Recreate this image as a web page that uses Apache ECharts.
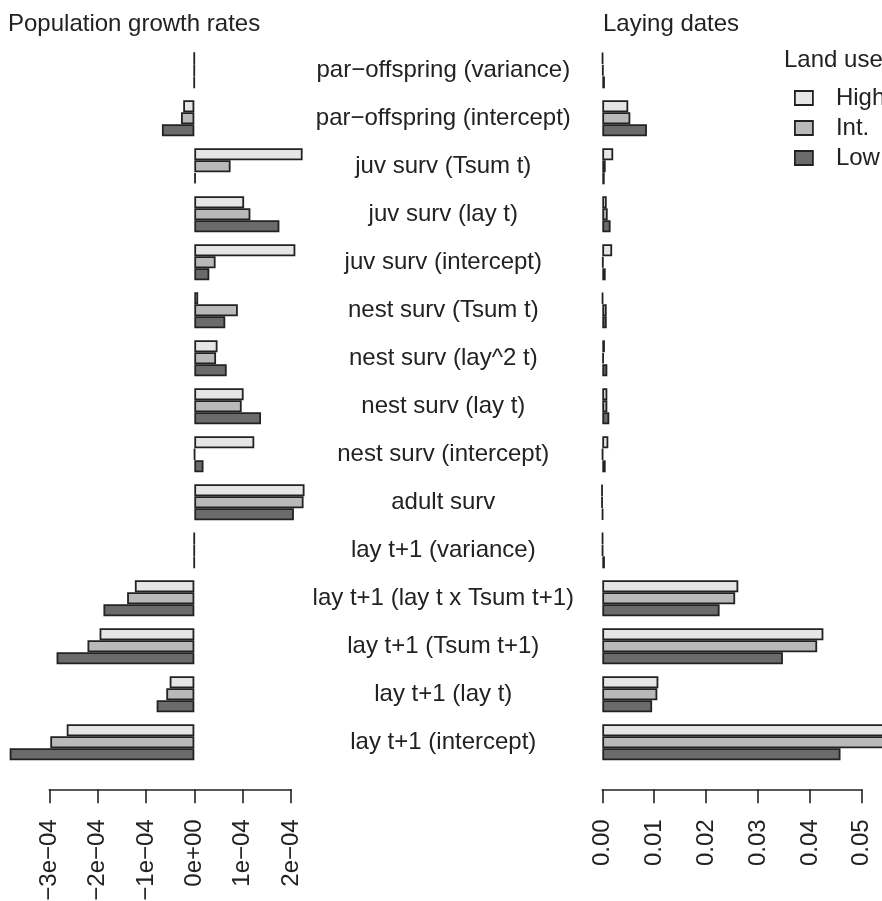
<!DOCTYPE html>
<html><head><meta charset="utf-8">
<script src="https://cdn.jsdelivr.net/npm/echarts@6/dist/echarts.min.js"></script>
<style>html,body{margin:0;padding:0;background:#fff}#c{width:882px;height:901px}</style>
</head><body><div id="c"></div>
<script>
// categories, top to bottom
const categories = [
  'par\u2212offspring (variance)',
  'par\u2212offspring (intercept)',
  'juv surv (Tsum t)',
  'juv surv (lay t)',
  'juv surv (intercept)',
  'nest surv (Tsum t)',
  'nest surv (lay^2 t)',
  'nest surv (lay t)',
  'nest surv (intercept)',
  'adult surv',
  'lay t+1 (variance)',
  'lay t+1 (lay t x Tsum t+1)',
  'lay t+1 (Tsum t+1)',
  'lay t+1 (lay t)',
  'lay t+1 (intercept)'
];
const seriesNames = ['High', 'Int.', 'Low'];

// Population growth rates
const growthHigh = [-0.3e-6, -2.3e-5, 2.24e-4, 1.03e-4, 2.09e-4, 0.8e-5, 4.8e-5, 1.02e-4, 1.24e-4, 2.28e-4, -0.4e-6, -1.23e-4, -1.96e-4, -0.51e-4, -2.64e-4];
const growthInt  = [-0.3e-6, -2.75e-5, 0.75e-4, 1.16e-4, 0.44e-4, 0.9e-4, 4.5e-5, 0.98e-4, 0.1e-5, 2.26e-4, -0.4e-6, -1.39e-4, -2.21e-4, -0.58e-4, -2.98e-4];
const growthLow  = [-0.5e-6, -6.7e-5, 0.3e-5, 1.76e-4, 0.31e-4, 0.64e-4, 6.7e-5, 1.38e-4, 0.19e-4, 2.06e-4, -0.5e-6, -1.88e-4, -2.85e-4, -0.78e-4, -3.82e-4];

// Laying dates
const layHigh = [0.0001, 0.0050, 0.0021, 0.00085, 0.0019, 0.0001, 0.0005, 0.00097, 0.00116, -0.0001, 0.0001, 0.0262, 0.0426, 0.0108, 0.0575];
const layInt  = [0.0002, 0.0054, 0.00065, 0.00104, 0.0002, 0.00085, 0.0003, 0.00097, 0.0001, -0.0001, 0.0001, 0.0256, 0.0414, 0.0106, 0.0560];
const layLow  = [0.0005, 0.0086, 0.00046, 0.0016, 0.00065, 0.00085, 0.00097, 0.00135, 0.00065, 0.0001, 0.0005, 0.0226, 0.0348, 0.0096, 0.0459];

// tick labels
const growthTickLabels = ['\u22123e\u221204', '\u22122e\u221204', '\u22121e\u221204', '0e+00', '1e\u221204', '2e\u221204'];
const layTickLabels = ['0.00', '0.01', '0.02', '0.03', '0.04', '0.05'];

const fills = ['#e6e6e6', '#b9b9b9', '#6b6b6b'];
const border = '#222222';
const font = 'Liberation Sans, Arial, Helvetica, sans-serif';
const textColor = '#222222';
const FS = 24;
const BW = 1.8;

function tickFormatter(labels, min, step) {
  return function (v) {
    const i = Math.round((v - min) / step);
    return labels[i] !== undefined ? labels[i] : '';
  };
}

function axisX(gridIndex, min, max, step, labels) {
  return {
    gridIndex: gridIndex, type: 'value', min: min, max: max, interval: step,
    position: 'bottom', offset: 23,
    axisLine: { show: true, onZero: false, lineStyle: { color: border, width: 1.6 } },
    axisTick: { show: true, length: 14, lineStyle: { color: border, width: 1.6 } },
    axisLabel: { rotate: 90, margin: 30, fontSize: FS, fontFamily: font, color: textColor,
      formatter: tickFormatter(labels, min, step) },
    splitLine: { show: false }
  };
}

const growthData = [growthHigh, growthInt, growthLow];
const layData = [layHigh, layInt, layLow];
const series = [];
seriesNames.forEach(function (n, i) {
  series.push({
    name: n, type: 'bar', xAxisIndex: 0, yAxisIndex: 0, data: growthData[i], clip: false,
    barGap: '0%', barCategoryGap: '25%',
    itemStyle: { color: fills[i], borderColor: border, borderWidth: BW }
  });
});
seriesNames.forEach(function (n, i) {
  series.push({
    name: n, type: 'bar', xAxisIndex: 1, yAxisIndex: 1, data: layData[i], clip: false,
    barGap: '0%', barCategoryGap: '25%',
    itemStyle: { color: fills[i], borderColor: border, borderWidth: BW }
  });
});

const titleStyle = { fontSize: FS, fontWeight: 'normal', color: textColor, fontFamily: font };
const chart = echarts.init(document.getElementById('c'), null, { renderer: 'canvas' });
chart.setOption({
  backgroundColor: '#ffffff',
  animation: false,
  textStyle: { fontFamily: font },
  title: [
    { text: 'Population growth rates', left: 8, top: 12, padding: 0, textStyle: titleStyle },
    { text: 'Laying dates', left: 603, top: 12, padding: 0, textStyle: titleStyle },
    { text: 'Land use', left: 784, top: 48, padding: 0, textStyle: titleStyle }
  ],
  legend: {
    orient: 'vertical', left: 794, top: 86, padding: 0, itemWidth: 18, itemHeight: 14, itemGap: 6,
    data: seriesNames.map(function (n, i) {
      return { name: n, icon: 'rect', itemStyle: { color: fills[i], borderColor: border, borderWidth: BW } };
    }),
    textStyle: { fontSize: FS, color: textColor, fontFamily: font, padding: [0, 0, 0, 18] },
    selectedMode: false
  },
  grid: [
    { left: 49.3, width: 241.7, top: 46.3, height: 720, outerBoundsMode: 'none', containLabel: false },
    { left: 602.3, width: 259.5, top: 46.3, height: 720, outerBoundsMode: 'none', containLabel: false }
  ],
  xAxis: [
    axisX(0, -3e-4, 2e-4, 1e-4, growthTickLabels),
    axisX(1, 0, 0.05, 0.01, layTickLabels)
  ],
  yAxis: [
    { gridIndex: 0, type: 'category', data: categories, inverse: true, show: false },
    { gridIndex: 1, type: 'category', data: categories, inverse: true,
      axisLine: { show: false }, axisTick: { show: false }, splitLine: { show: false },
      axisLabel: { align: 'center', margin: 159, fontSize: FS, fontFamily: font, color: textColor } }
  ],
  series: series
});
</script>
</body></html>
